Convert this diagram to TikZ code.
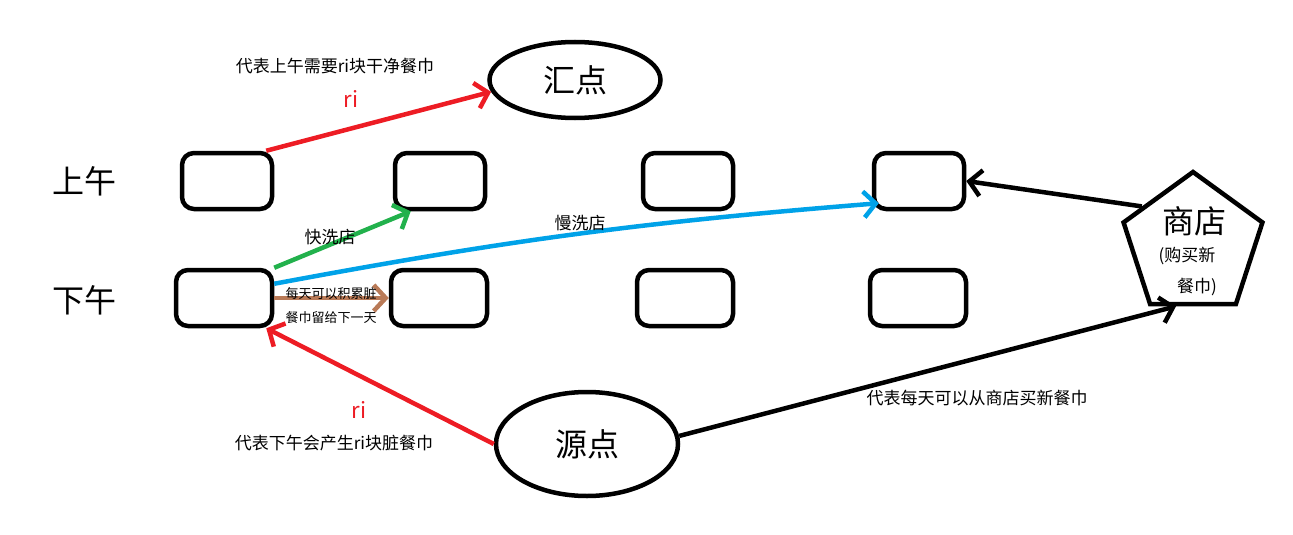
\documentclass[tikz,border=0pt]{standalone}
\usepackage{fontspec}
\setmainfont{Noto Sans CJK SC}
\usetikzlibrary{arrows.meta,positioning,shapes.geometric}
\definecolor{penred}{RGB}{237,28,36}
\definecolor{pengreen}{RGB}{34,177,76}
\definecolor{penblue}{RGB}{0,162,232}
\definecolor{penbrown}{RGB}{185,122,87}

\begin{document}
\begin{tikzpicture}[x=1pt,y=-1pt,>={Straight Barb[length=12pt,width=26pt]},line width=4.5pt,
  box/.style={draw,rounded corners=12pt,minimum width=90pt,minimum height=56pt,inner sep=0pt},
  big/.style={font=\fontsize{32}{38}\selectfont},
  mid/.style={font=\fontsize{17}{20}\selectfont},
  small/.style={font=\fontsize{13}{15}\selectfont},
  flow/.style={font=\fontsize{22}{26}\selectfont,text=penred}]

  \useasboundingbox (0,0) rectangle (1293,535);

  % morning and afternoon rows
  \node[box] (am1) at (227,181) {};
  \node[box] (am2) at (440,181) {};
  \node[box] (am3) at (688,181) {};
  \node[box] (am4) at (919,181) {};
  \node[box,minimum width=96pt] (pm1) at (224,298) {};
  \node[box,minimum width=96pt] (pm2) at (439,298) {};
  \node[box,minimum width=96pt] (pm3) at (685,298) {};
  \node[box,minimum width=96pt] (pm4) at (918,298) {};

  \node[big] (amlabel) at (84,181) {上午};
  \node[big] (pmlabel) at (84,300) {下午};

  % sink, source and shop
  \node[big,draw,ellipse,minimum width=171pt,minimum height=76pt] (sink) at (575,80) {汇点};
  \node[big,draw,ellipse,minimum width=182pt,minimum height=104pt] (source) at (587,444) {源点};
  \node[draw,regular polygon,regular polygon sides=5,minimum size=146pt] (shop) at (1193,245) {};
  \node[big] (shopname) at (1194,221) {商店};
  \node[mid] (shopbuy) at (1187,256) {(购买新};
  \node[mid] (shopnap) at (1197,287) {餐巾)};

  % connectors
  \draw[->,penred] ([xshift=-8pt]am1.north east) -- (sink.188);
  \node[flow] (rim) at (351,99) {ri};
  \node[mid] (needtext) at (335,66) {代表上午需要ri块干净餐巾};

  \draw[->,pengreen] (pm1.north east) -- ([xshift=18pt]am2.south west);
  \node[mid] (fasttext) at (330,237) {快洗店};

  \draw[->,penblue] ([yshift=-16pt]pm1.north east) to[bend left=3] ([xshift=7pt,yshift=8pt]am4.south west);
  \node[mid] (slowtext) at (580,223) {慢洗店};

  \draw[->,penbrown] (pm1.east) -- (pm2.west);
  \node[small] (keeptext) at (331,294) {每天可以积累脏};
  \node[small] (keeptext2) at (331,318) {餐巾留给下一天};

  \draw[->,penred] (source.west) -- ([xshift=-8pt]pm1.south east);
  \node[flow] (rip) at (359,410) {ri};
  \node[mid] (dirtytext) at (334,443) {代表下午会产生ri块脏餐巾};

  \draw[->] (source.5) -- ([xshift=-17pt]shop.side 3);
  \node[mid] (buytext) at (977,398) {代表每天可以从商店买新餐巾};

  \draw[->] (shop.143) -- (am4.east);

\end{tikzpicture}
\end{document}
